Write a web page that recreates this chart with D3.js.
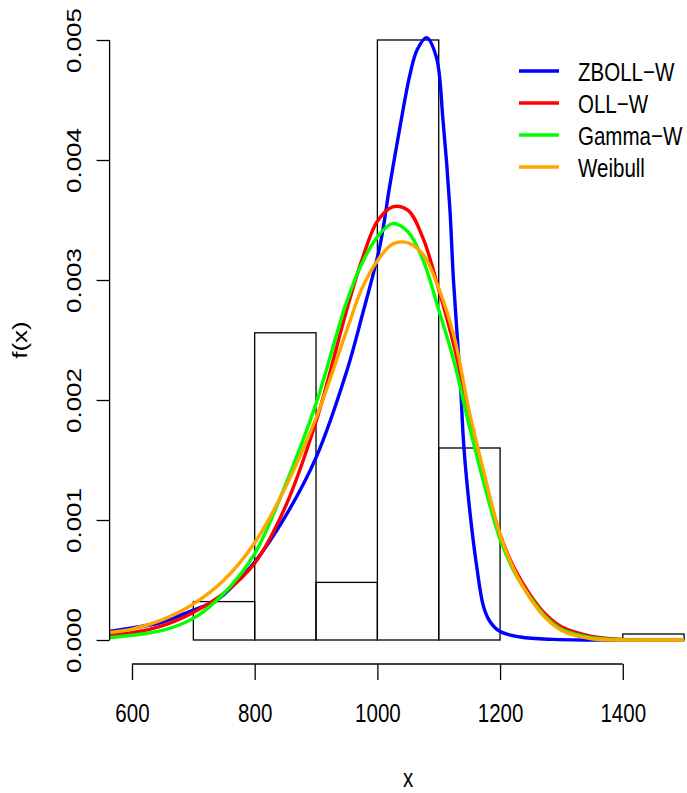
<!DOCTYPE html>
<html>
<head>
<meta charset="utf-8">
<script src="https://cdn.jsdelivr.net/npm/d3@7"></script>
<style>
  html, body { margin: 0; padding: 0; background: #fff; }
  svg { display: block; }
</style>
</head>
<body>
<svg></svg>
<script>
const width = 687, height = 793;
const svg = d3.select("svg").attr("width", width).attr("height", height);

// histogram (density scale)
const binEdges = [700, 800, 900, 1000, 1100, 1200, 1300, 1400, 1500];
const binDensity = [0.00032, 0.00256, 0.00048, 0.005, 0.0016, 0, 0, 0.00005];

// fitted densities
const gridX = [560, 600, 650, 700, 750, 800, 850, 900, 950, 975, 1000, 1025, 1050, 1075, 1100,
               1125, 1150, 1175, 1200, 1225, 1250, 1275, 1300, 1350, 1400, 1450, 1500];
const ollW = [0.00004, 0.00006, 0.00012, 0.00023, 0.00039, 0.00064, 0.00111, 0.00182, 0.00275, 0.00317,
              0.00349, 0.00361, 0.00358, 0.00334, 0.00292, 0.00245, 0.00187, 0.00134, 0.00088, 0.00058,
              0.00037, 0.00021, 0.00011, 0.00003, 0.000005, 0, 0];
const gammaW = [0.00002, 0.00004, 0.00008, 0.00018, 0.00039, 0.00072, 0.00129, 0.00197, 0.00282, 0.00314,
                0.00336, 0.00347, 0.0034, 0.00316, 0.00275, 0.00232, 0.00178, 0.00128, 0.00084, 0.00055,
                0.00035, 0.00019, 0.00009, 0.00002, 0.000003, 0, 0];
const weibull = [0.00006, 0.00009, 0.00017, 0.0003, 0.0005, 0.00081, 0.00127, 0.00185, 0.00258, 0.00293,
                 0.00316, 0.0033, 0.00331, 0.00321, 0.00293, 0.00253, 0.0019, 0.00137, 0.00088, 0.00056,
                 0.00034, 0.00018, 0.00008, 0.00001, 0, 0, 0];

// ZBOLL-W is much sharper, so it gets its own points
const zbollX = [560, 600, 650, 700, 735, 750, 800, 850, 900, 950, 975, 1004, 1020, 1037, 1053, 1065, 1080,
                1096, 1107, 1118, 1124, 1135, 1141, 1151, 1162, 1173, 1184, 1200, 1233, 1286, 1350, 1500];
const zbollY = [0.00007, 0.0001, 0.00015, 0.00025, 0.00032, 0.00038, 0.00065, 0.00103, 0.00152, 0.00224,
                0.0027, 0.00328, 0.00378, 0.00428, 0.00471, 0.00492, 0.00502, 0.00486, 0.00433, 0.00361,
                0.003, 0.00217, 0.00161, 0.00106, 0.00061, 0.00028, 0.00015, 0.00007, 0.000025, 0.000005, 0, 0];

const legendNames = ["ZBOLL\u2212W", "OLL\u2212W", "Gamma\u2212W", "Weibull"];
const legendColors = ["#0000ff", "#ff0000", "#00ff00", "#ffa500"];

const xTicks = [600, 800, 1000, 1200, 1400];
const yTicks = [0, 0.001, 0.002, 0.003, 0.004, 0.005];

const font = "'Liberation Sans', Arial, sans-serif";
const squeeze = 0.79; // text in the reference is narrowed horizontally

// plot region (R style, 4% padding)
const x = d3.scaleLinear().domain([563.5, 1536.5]).range([109.6, 706.5]);
const y = d3.scaleLinear().domain([-0.0002, 0.0052]).range([664, 16]);

svg.append("defs").append("clipPath").attr("id", "plotClip")
  .append("rect")
  .attr("x", x.range()[0]).attr("y", y.range()[1])
  .attr("width", x.range()[1] - x.range()[0])
  .attr("height", y.range()[0] - y.range()[1]);

// histogram bars
svg.append("g").selectAll("rect")
  .data(binDensity)
  .enter().append("rect")
  .attr("x", (d, i) => x(binEdges[i]))
  .attr("width", (d, i) => x(binEdges[i + 1]) - x(binEdges[i]))
  .attr("y", d => y(d))
  .attr("height", d => y(0) - y(d))
  .attr("fill", "none")
  .attr("stroke", "#000")
  .attr("stroke-width", 1.3);

// density curves
const curves = [
  { xs: zbollX, ys: zbollY, color: legendColors[0] },
  { xs: gridX, ys: ollW, color: legendColors[1] },
  { xs: gridX, ys: gammaW, color: legendColors[2] },
  { xs: gridX, ys: weibull, color: legendColors[3] }
];

const line = d3.line()
  .x(d => x(d[0]))
  .y(d => Math.min(y(d[1]), y(0)))
  .curve(d3.curveCatmullRom.alpha(0.5));

svg.append("g").attr("clip-path", "url(#plotClip)")
  .selectAll("path")
  .data(curves)
  .enter().append("path")
  .attr("d", c => line(c.xs.map((v, i) => [v, c.ys[i]])))
  .attr("fill", "none")
  .attr("stroke", c => c.color)
  .attr("stroke-width", 3.4)
  .attr("stroke-linejoin", "round");

// x axis
const xAxis = svg.append("g")
  .attr("transform", `translate(0,${y.range()[0]})`)
  .call(d3.axisBottom(x).tickValues(xTicks).tickSize(16).tickFormat(d3.format("d")));
xAxis.select(".domain").remove();
xAxis.append("line")
  .attr("x1", x(xTicks[0])).attr("x2", x(xTicks[xTicks.length - 1]))
  .attr("stroke", "#000").attr("stroke-width", 1.3);
xAxis.selectAll(".tick line").attr("stroke-width", 1.3);
xAxis.selectAll(".tick text")
  .attr("y", null).attr("dy", null)
  .attr("transform", `translate(0,58) scale(${squeeze},1)`)
  .attr("text-anchor", "middle")
  .attr("fill", "#000")
  .style("font-family", font)
  .style("font-size", "26px");

// y axis
const yAxis = svg.append("g")
  .attr("transform", `translate(${x.range()[0]},0)`)
  .call(d3.axisLeft(y).tickValues(yTicks).tickSize(13).tickFormat(d3.format(".3f")));
yAxis.select(".domain").remove();
yAxis.append("line")
  .attr("y1", y(yTicks[0])).attr("y2", y(yTicks[yTicks.length - 1]))
  .attr("stroke", "#000").attr("stroke-width", 1.3);
yAxis.selectAll(".tick line").attr("stroke-width", 1.3);
yAxis.selectAll(".tick text")
  .attr("x", null).attr("dy", null)
  .attr("transform", `translate(-29,0) scale(${squeeze},1) rotate(-90)`)
  .attr("text-anchor", "middle")
  .attr("fill", "#000")
  .style("font-family", font)
  .style("font-size", "26px");

// axis titles
const midX = (x.range()[0] + x.range()[1]) / 2;
const midY = (y.range()[0] + y.range()[1]) / 2;
svg.append("text")
  .attr("transform", `translate(${midX},787) scale(${squeeze},1)`)
  .attr("text-anchor", "middle")
  .style("font-family", font).style("font-size", "26px")
  .text("x");
svg.append("text")
  .attr("transform", `translate(27,${midY}) scale(${squeeze},1) rotate(-90)`)
  .attr("text-anchor", "middle")
  .style("font-family", font).style("font-size", "26px")
  .text("f(x)");

// legend
const legend = svg.append("g").attr("transform", "translate(519,71)");
const item = legend.selectAll("g")
  .data(legendNames)
  .enter().append("g")
  .attr("transform", (d, i) => `translate(0,${i * 32})`);
item.append("line")
  .attr("x1", 0).attr("x2", 40)
  .attr("stroke", (d, i) => legendColors[i])
  .attr("stroke-width", 3.4);
item.append("text")
  .attr("transform", `translate(59,10) scale(${squeeze},1)`)
  .style("font-family", font).style("font-size", "26px")
  .text(d => d);
</script>
</body>
</html>
